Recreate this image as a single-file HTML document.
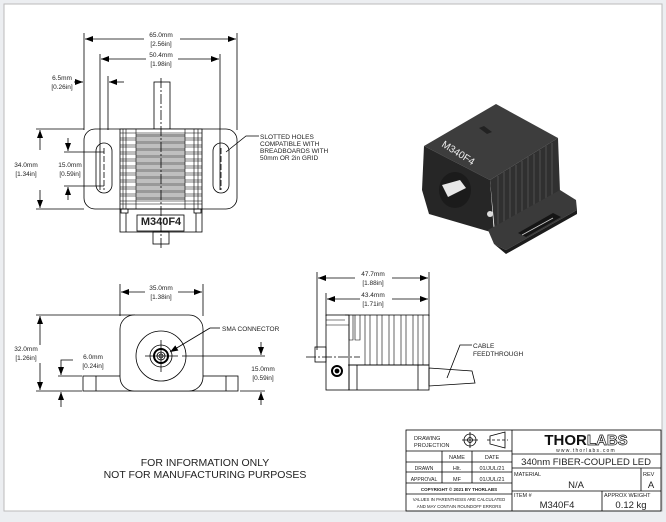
<!DOCTYPE html>
<html><head><meta charset="utf-8"><style>
html,body{margin:0;padding:0;background:#eceef1}
svg{display:block}
text{font-family:"Liberation Sans",sans-serif;fill:#222}
</style></head><body>
<svg width="666" height="522" viewBox="0 0 666 522" xmlns="http://www.w3.org/2000/svg">
<defs>
<marker id="a" markerWidth="8" markerHeight="6" refX="8" refY="3" orient="auto" markerUnits="userSpaceOnUse"><path d="M0,0 L8,3 L0,6 z" fill="#000"/></marker>
</defs>
<rect x="0" y="0" width="666" height="522" fill="#eceef1"/>
<rect x="4" y="4" width="658" height="507" fill="#fff" stroke="#bbb" stroke-width="1"/>
<g stroke="#000" stroke-width="0.8" fill="none">
<!-- TOP VIEW -->
<line x1="84" y1="33" x2="84" y2="130"/><line x1="237" y1="33" x2="237" y2="130"/>
<line x1="100" y1="54" x2="100" y2="190"/><line x1="220" y1="54" x2="220" y2="190"/>
<line x1="144" y1="39" x2="85" y2="39" marker-end="url(#a)"/><line x1="180" y1="39" x2="236" y2="39" marker-end="url(#a)"/>
<line x1="146" y1="59" x2="101" y2="59" marker-end="url(#a)"/><line x1="178" y1="59" x2="219" y2="59" marker-end="url(#a)"/>
<line x1="74" y1="82" x2="83" y2="82" marker-end="url(#a)"/><line x1="124" y1="82" x2="109" y2="82" marker-end="url(#a)"/>
<line x1="108" y1="76" x2="108" y2="130"/>
<rect x="84" y="129" width="153" height="80" rx="11"/>
<rect x="96" y="143" width="16" height="50" rx="8"/>
<rect x="213" y="143" width="16" height="50" rx="8"/>
<rect x="154" y="82" width="16" height="47"/>
<rect x="120" y="129" width="82" height="80" fill="#fff"/>
<g stroke="none" fill="#999">
<rect x="136" y="134" width="49" height="3"/><rect x="136" y="141" width="49" height="3"/><rect x="136" y="148" width="49" height="3"/><rect x="136" y="155" width="49" height="3"/><rect x="136" y="162" width="49" height="3"/><rect x="136" y="169" width="49" height="3"/><rect x="136" y="176" width="49" height="3"/><rect x="136" y="183" width="49" height="3"/><rect x="136" y="190" width="49" height="3"/><rect x="136" y="197" width="49" height="3"/>
</g>
<g stroke-width="0.6">
<path d="M120 133H202M120 138H202M120 140H202M120 145H202M120 147H202M120 152H202M120 154H202M120 159H202M120 161H202M120 166H202M120 168H202M120 173H202M120 175H202M120 180H202M120 182H202M120 187H202M120 189H202M120 194H202M120 196H202M120 201H202M120 204H202"/>
<path d="M123 129V209M126 129V209M136 129V209M185 129V209M194 129V209M198 129V209"/>
</g>
<rect x="120" y="209" width="82" height="23"/>
<rect x="121" y="209" width="7" height="4"/><rect x="194" y="209" width="7" height="4"/>
<line x1="126" y1="213" x2="126" y2="232"/><line x1="196" y1="213" x2="196" y2="232"/>
<rect x="137" y="215" width="47" height="16"/>
<rect x="153" y="232" width="16" height="12"/>
<line x1="161" y1="78" x2="161" y2="248" stroke-dasharray="10,2,2,2"/>
<line x1="104" y1="148" x2="104" y2="190" stroke-dasharray="6,2"/><line x1="221" y1="148" x2="221" y2="190" stroke-dasharray="6,2"/>
<line x1="36" y1="129" x2="84" y2="129"/><line x1="36" y1="209" x2="84" y2="209"/>
<line x1="40" y1="150" x2="40" y2="130" marker-end="url(#a)"/><line x1="40" y1="190" x2="40" y2="208" marker-end="url(#a)"/>
<line x1="64" y1="152" x2="104" y2="152"/><line x1="64" y1="186" x2="104" y2="186"/>
<line x1="68" y1="138" x2="68" y2="151" marker-end="url(#a)"/><line x1="68" y1="200" x2="68" y2="187" marker-end="url(#a)"/>
<polyline points="226,152 246,136 259,136"/>
<!-- FRONT VIEW -->
<line x1="120" y1="284" x2="120" y2="316"/><line x1="203" y1="284" x2="203" y2="316"/>
<line x1="145" y1="292" x2="121" y2="292" marker-end="url(#a)"/><line x1="178" y1="292" x2="202" y2="292" marker-end="url(#a)"/>
<line x1="36" y1="315" x2="135" y2="315"/><line x1="36" y1="391" x2="82" y2="391"/>
<line x1="40" y1="345" x2="40" y2="316" marker-end="url(#a)"/><line x1="40" y1="363" x2="40" y2="390" marker-end="url(#a)"/>
<rect x="83" y="376" width="155" height="15"/>
<line x1="96" y1="376" x2="96" y2="391"/><line x1="226" y1="376" x2="226" y2="391"/>
<rect x="120" y="315" width="83" height="76" rx="14" fill="#fff"/>
<circle cx="161" cy="356" r="25"/><circle cx="161" cy="356" r="11"/><circle cx="161" cy="356" r="7" stroke-width="2"/><circle cx="161" cy="356" r="4"/><circle cx="161" cy="356" r="2"/>
<line x1="145" y1="356" x2="178" y2="356"/><line x1="161" y1="340" x2="161" y2="372"/>
<line x1="182" y1="356" x2="265" y2="356"/><line x1="240" y1="391" x2="265" y2="391"/>
<line x1="58" y1="376" x2="82" y2="376"/>
<polyline points="73,360 61,360 61,375" marker-end="url(#a)"/>
<line x1="61" y1="407" x2="61" y2="392" marker-end="url(#a)"/>
<line x1="261" y1="342" x2="261" y2="355" marker-end="url(#a)"/><line x1="261" y1="405" x2="261" y2="392" marker-end="url(#a)"/>
<line x1="210" y1="328" x2="170" y2="352" marker-end="url(#a)"/><line x1="210" y1="328" x2="220" y2="328"/>
<!-- SIDE VIEW -->
<line x1="317" y1="272" x2="317" y2="350"/><line x1="429" y1="272" x2="429" y2="316"/><line x1="326" y1="293" x2="326" y2="316"/>
<line x1="355" y1="278" x2="318" y2="278" marker-end="url(#a)"/><line x1="392" y1="278" x2="428" y2="278" marker-end="url(#a)"/>
<line x1="360" y1="299" x2="327" y2="299" marker-end="url(#a)"/><line x1="392" y1="299" x2="428" y2="299" marker-end="url(#a)"/>
<rect x="326" y="315" width="23" height="75"/>
<rect x="315" y="347" width="11" height="15"/>
<path d="M345 315H429V365H348"/>
<g stroke-width="0.6"><path d="M349 315V340H353V315M355 315V340H360V315M365 315V365M370 315V365M377 315V365M382 315V365M389 315V365M394 315V365M401 315V365M406 315V365M413 315V365M418 315V365M423 315V365M326 320H345M326 325H349"/></g>
<rect x="349" y="365" width="80" height="25"/>
<line x1="357" y1="365" x2="357" y2="390"/><line x1="418" y1="365" x2="418" y2="390"/>
<path d="M429 368L472 371L475 383L429 386Z"/>
<circle cx="337" cy="371" r="5" stroke-width="2"/><circle cx="337" cy="371" r="2" fill="#000"/>
<line x1="306" y1="357" x2="360" y2="357" stroke-dasharray="10,2,2,2"/>
<polyline points="447,378 460,345 472,345"/>
<!-- TITLE BLOCK -->
<rect x="406" y="430" width="255" height="81"/>
<line x1="512" y1="430" x2="512" y2="511"/>
<path d="M406 451H512M406 462H512M406 472H512M406 483H512M406 494H512"/>
<path d="M442 451V483M472 451V483"/>
<path d="M512 454H661M512 468H661M512 491H661"/>
<line x1="641" y1="468" x2="641" y2="491"/><line x1="602" y1="491" x2="602" y2="511"/>
<circle cx="470" cy="440" r="6"/><circle cx="470" cy="440" r="2.5"/><path d="M462 440H478M470 432V448"/>
<path d="M490 436L505 432V448L490 444Z"/><path d="M487 440H508" stroke-dasharray="3,2"/>
</g>
<!-- 3D render -->
<g>
<path d="M424 146L496 104L558 138L490 180Z" fill="#3d3d3d"/>
<path d="M424 146L490 180L494 233L429 214L422 190Z" fill="#262626"/>
<path d="M490 180L558 138L560 192L495 233Z" fill="#303030"/>
<g stroke="#4a4a4a" stroke-width="1.2"><path d="M498 176V228M504 172V225M510 168V221M516 165V218M522 161V214M528 157V211M534 154V207M540 150V204M546 146V200M552 143V197"/></g>
<path d="M488 230L560 190L576 200L577 210L506 250L494 244Z" fill="#3a3a3a"/>
<path d="M494 244L506 250L577 210L577 214L506 254Z" fill="#1c1c1c"/>
<path d="M518 233L553 213L561 217L526 237Z" fill="#151515"/>
<path d="M522 235L553 218" stroke="#ccc" stroke-width="0.8"/>
<path d="M479 128L484 126L492 132L487 134Z" fill="#222"/>
<ellipse cx="455" cy="190" rx="16" ry="18" fill="#1b1b1b"/>
<path d="M442 185L460 180L466 188L448 197Z" fill="#e8e8e8"/>
<circle cx="490" cy="214" r="3" fill="#ddd"/>
<text x="0" y="0" transform="translate(441,146) rotate(32)" font-size="10" style="fill:#eee">M340F4</text>
</g>
<!-- TEXT -->
<g font-size="6.5" text-anchor="middle">
<text x="161" y="37">65.0mm</text><text x="161" y="46">[2.56in]</text>
<text x="161" y="57">50.4mm</text><text x="161" y="66">[1.98in]</text>
<text x="62" y="80">6.5mm</text><text x="62" y="89">[0.26in]</text>
<text x="26" y="167">34.0mm</text><text x="26" y="176">[1.34in]</text>
<text x="70" y="167">15.0mm</text><text x="70" y="176">[0.59in]</text>
<text x="161" y="290">35.0mm</text><text x="161" y="299">[1.38in]</text>
<text x="26" y="351">32.0mm</text><text x="26" y="360">[1.26in]</text>
<text x="93" y="359">6.0mm</text><text x="93" y="368">[0.24in]</text>
<text x="263" y="371">15.0mm</text><text x="263" y="380">[0.59in]</text>
<text x="373" y="276">47.7mm</text><text x="373" y="285">[1.88in]</text>
<text x="373" y="297">43.4mm</text><text x="373" y="306">[1.71in]</text>
</g>
<g font-size="6.5">
<text x="260" y="139">SLOTTED HOLES</text><text x="260" y="146">COMPATIBLE WITH</text><text x="260" y="153">BREADBOARDS WITH</text><text x="260" y="160">50mm OR 2in GRID</text>
<text x="222" y="331">SMA CONNECTOR</text>
<text x="473" y="348">CABLE</text><text x="473" y="356">FEEDTHROUGH</text>
</g>
<text x="161" y="225" font-size="11" font-weight="bold" text-anchor="middle">M340F4</text>
<g font-size="10.5" text-anchor="middle">
<text x="205" y="466">FOR INFORMATION ONLY</text>
<text x="205" y="478">NOT FOR MANUFACTURING PURPOSES</text>
</g>
<g font-size="5.5">
<text x="414" y="440">DRAWING</text><text x="414" y="447">PROJECTION</text>
<text x="457" y="459" text-anchor="middle">NAME</text><text x="492" y="459" text-anchor="middle">DATE</text>
<text x="424" y="470" text-anchor="middle" font-size="5">DRAWN</text><text x="457" y="470" text-anchor="middle">Hlt.</text><text x="492" y="470" text-anchor="middle">01/JUL/21</text>
<text x="424" y="481" text-anchor="middle" font-size="5">APPROVAL</text><text x="457" y="481" text-anchor="middle">MF</text><text x="492" y="481" text-anchor="middle">01/JUL/21</text>
<text x="459" y="491" text-anchor="middle" font-size="4.5" font-weight="bold">COPYRIGHT © 2021 BY THORLABS</text>
<text x="459" y="501" text-anchor="middle" font-size="4.3">VALUES IN PARENTHESIS ARE CALCULATED</text>
<text x="459" y="508" text-anchor="middle" font-size="4.3">AND MAY CONTAIN ROUNDOFF ERRORS</text>
<text x="514" y="476">MATERIAL</text><text x="643" y="476">REV</text>
<text x="514" y="497">ITEM #</text><text x="604" y="497">APPROX WEIGHT</text>
</g>
<text x="586" y="445" font-size="15" font-weight="bold" text-anchor="middle" style="fill:#111">THOR<tspan style="fill:#fff;stroke:#111;stroke-width:0.7">LABS</tspan></text>
<text x="586" y="452" font-size="5" text-anchor="middle" letter-spacing="1.2">www.thorlabs.com</text>
<text x="586" y="465" font-size="9.5" text-anchor="middle">340nm FIBER-COUPLED LED</text>
<text x="576" y="488" font-size="9.5" text-anchor="middle">N/A</text>
<text x="651" y="488" font-size="9.5" text-anchor="middle">A</text>
<text x="557" y="508" font-size="9.5" text-anchor="middle">M340F4</text>
<text x="631" y="508" font-size="9.5" text-anchor="middle">0.12 kg</text>
</svg>
</body></html>
